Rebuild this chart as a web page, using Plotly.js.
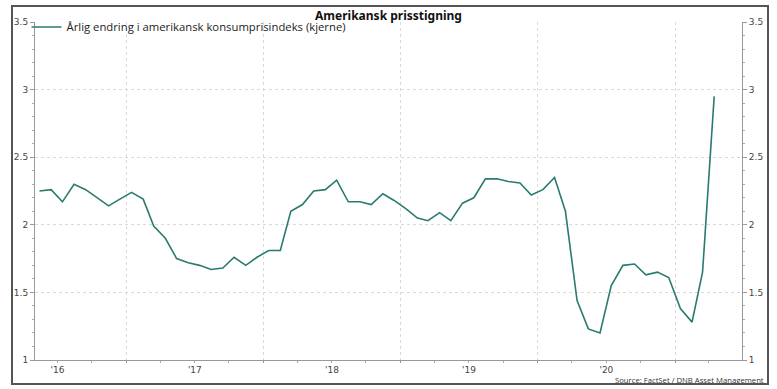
<!DOCTYPE html>
<html>
<head>
<meta charset="utf-8">
<script src="https://cdn.plot.ly/plotly-3.0.1.min.js"></script>
<style>
  html, body { margin: 0; padding: 0; background: #fff; }
  #wrap { position: relative; width: 777px; height: 389px; }
  #chart { position: absolute; left: 0; top: 0; width: 777px; height: 389px; }
  #frame { position: absolute; left: 11px; top: 5px; width: 754px; height: 376px;
           border: 2px solid #555; pointer-events: none; }
</style>
</head>
<body>
<div id="wrap"><div id="chart"></div><div id="frame"></div></div>
<script>
const chartTitle = "Amerikansk prisstigning";
const seriesName = "Årlig endring i amerikansk konsumprisindeks (kjerne)";
const sourceText = "Source: FactSet / DNB Asset Management";

const months = [
  "2016-05-15","2016-06-15","2016-07-15","2016-08-15","2016-09-15","2016-10-15","2016-11-15","2016-12-15",
  "2017-01-15","2017-02-15","2017-03-15","2017-04-15","2017-05-15","2017-06-15","2017-07-15","2017-08-15",
  "2017-09-15","2017-10-15","2017-11-15","2017-12-15",
  "2018-01-15","2018-02-15","2018-03-15","2018-04-15","2018-05-15","2018-06-15","2018-07-15","2018-08-15",
  "2018-09-15","2018-10-15","2018-11-15","2018-12-15",
  "2019-01-15","2019-02-15","2019-03-15","2019-04-15","2019-05-15","2019-06-15","2019-07-15","2019-08-15",
  "2019-09-15","2019-10-15","2019-11-15","2019-12-15",
  "2020-01-15","2020-02-15","2020-03-15","2020-04-15","2020-05-15","2020-06-15","2020-07-15","2020-08-15",
  "2020-09-15","2020-10-15","2020-11-15","2020-12-15",
  "2021-01-15","2021-02-15","2021-03-15","2021-04-15"
];

const coreCpi = [
  2.25, 2.26, 2.17, 2.30, 2.26, 2.20, 2.14, 2.19,
  2.24, 2.19, 1.99, 1.90, 1.75, 1.72, 1.70, 1.67,
  1.68, 1.76, 1.70, 1.76,
  1.81, 1.81, 2.10, 2.15, 2.25, 2.26, 2.33, 2.17,
  2.17, 2.15, 2.23, 2.18,
  2.12, 2.05, 2.03, 2.09, 2.03, 2.16, 2.20, 2.34,
  2.34, 2.32, 2.31, 2.22,
  2.26, 2.35, 2.10, 1.44, 1.23, 1.20, 1.55, 1.70,
  1.71, 1.63, 1.65, 1.61,
  1.38, 1.28, 1.65, 2.95
];

const yTickVals = [1, 1.5, 2, 2.5, 3, 3.5];
const yTickText = ["1", "1.5", "2", "2.5", "3", "3.5"];

const lineColor = "#2b7a6f";
const tickFont = { family: "DejaVu Sans", size: 9, color: "#444" };

const traces = [
  {
    x: months, y: coreCpi, type: "scatter", mode: "lines", name: seriesName,
    line: { color: lineColor, width: 1.6 }, yaxis: "y", hoverinfo: "skip"
  },
  {
    x: months, y: coreCpi, type: "scatter", mode: "lines", name: "right",
    line: { color: "rgba(0,0,0,0)", width: 0 }, yaxis: "y2", showlegend: false, hoverinfo: "skip"
  }
];

const yCommon = {
  range: [1, 3.5], tickvals: yTickVals, ticktext: yTickText,
  ticks: "outside", ticklen: 4, tickcolor: "#999", tickwidth: 1,
  showline: true, linecolor: "#999", linewidth: 1,
  tickfont: tickFont, zeroline: false,
  minor: { dtick: 0.1, tick0: 1, ticks: "outside", ticklen: 2, tickcolor: "#aaa", showgrid: false }
};

const layout = {
  width: 777, height: 389,
  margin: { l: 35, r: 35, t: 22, b: 29 },
  paper_bgcolor: "#fff", plot_bgcolor: "#fff",
  title: {
    text: "<b>" + chartTitle + "</b>",
    font: { family: "Noto Sans", size: 12, color: "#111" },
    x: 0.5, xref: "container", y: 0.96, yref: "container", yanchor: "middle"
  },
  showlegend: true,
  legend: {
    x: -0.012, y: 1.028, xanchor: "left", yanchor: "top",
    bgcolor: "rgba(0,0,0,0)",
    font: { family: "Open Sans", size: 11.3, color: "#222" }
  },
  xaxis: {
    type: "date", range: ["2016-05-03", "2021-06-28"],
    dtick: "M12", tick0: "2016-01-01", tickformat: "'%y", ticklabelmode: "period",
    ticks: "outside", ticklen: 2, tickcolor: "#999", ticklabelstandoff: -1,
    showgrid: true, gridcolor: "#dadada", griddash: "dot", gridwidth: 1,
    showline: true, linecolor: "#999", linewidth: 1,
    tickfont: tickFont,
    minor: { dtick: "M3", tick0: "2016-01-01", ticks: "outside", ticklen: 2, tickcolor: "#aaa", showgrid: false }
  },
  yaxis: Object.assign({}, yCommon, {
    side: "left",
    showgrid: true, gridcolor: "#dadada", griddash: "dot", gridwidth: 1
  }),
  yaxis2: Object.assign({}, yCommon, {
    side: "right", overlaying: "y", showgrid: false
  }),
  annotations: [
    {
      text: sourceText, xref: "paper", yref: "paper",
      x: 1.034, y: -0.058, xanchor: "right", yanchor: "middle", showarrow: false,
      font: { family: "Open Sans", size: 7.7, color: "#333" }
    }
  ]
};

Plotly.newPlot("chart", traces, layout, { staticPlot: true, displayModeBar: false });
</script>
</body>
</html>
